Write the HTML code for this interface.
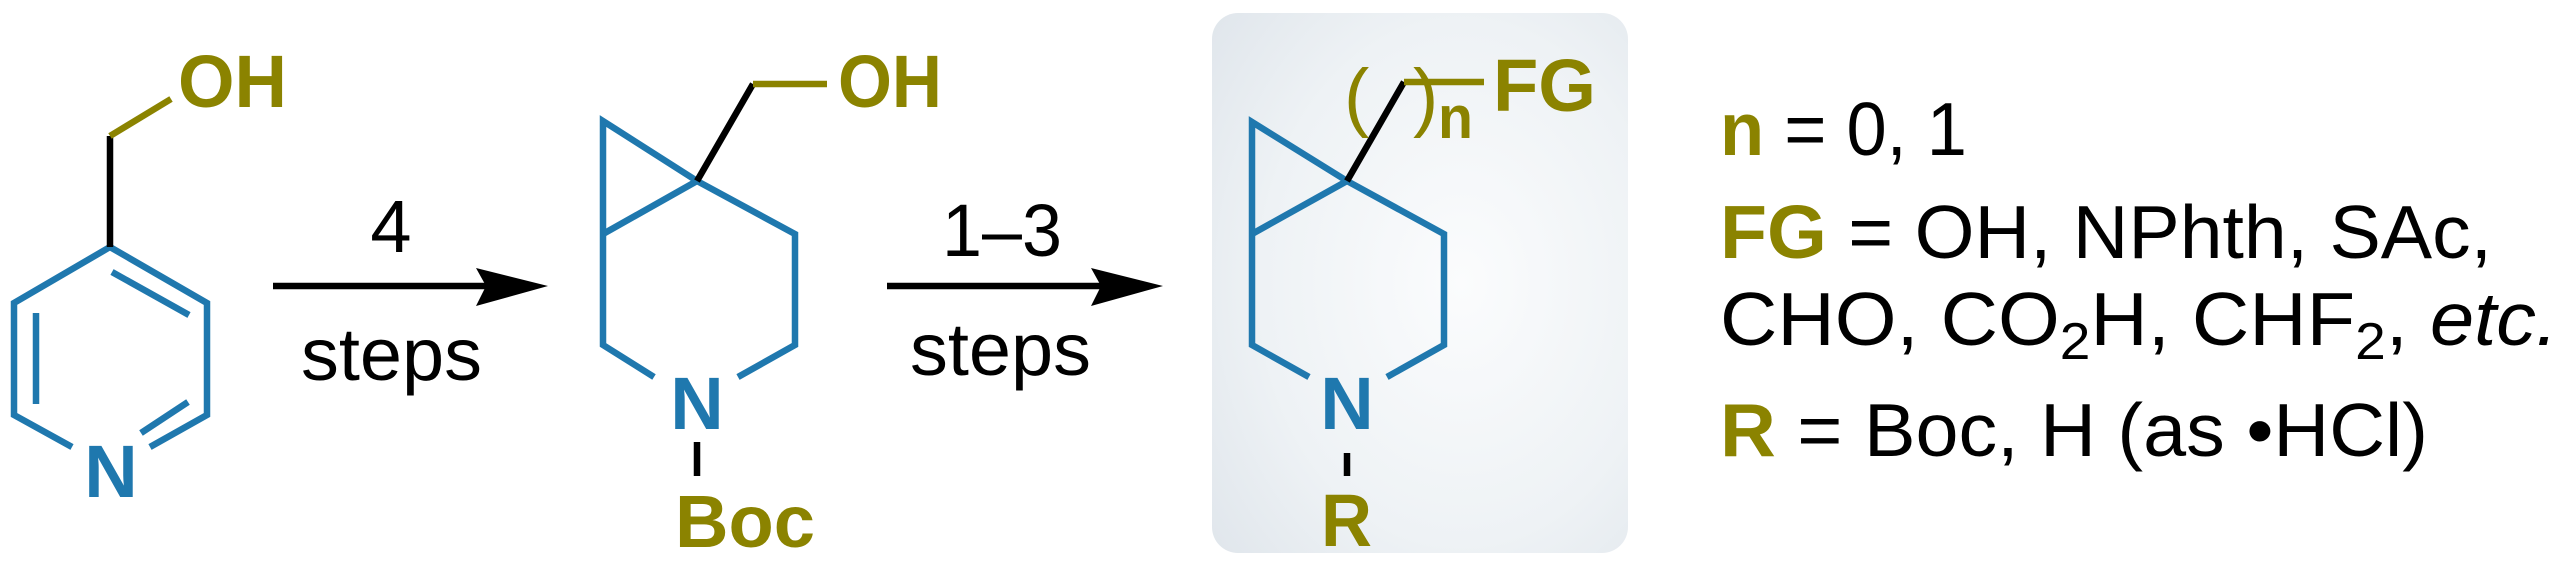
<!DOCTYPE html>
<html><head><meta charset="utf-8"><style>
html,body{margin:0;padding:0;background:#fff;}
svg{display:block;}
text{font-family:"Liberation Sans",Arial,sans-serif;}
</style></head><body>
<svg width="2560" height="561" viewBox="0 0 2560 561" xmlns="http://www.w3.org/2000/svg">
<defs>
<radialGradient id="g" cx="0.6" cy="0.5" r="0.8">
<stop offset="0" stop-color="#fbfcfd"/>
<stop offset="0.6" stop-color="#eef2f5"/>
<stop offset="1" stop-color="#dfe5eb"/>
</radialGradient>
</defs>
<rect x="1212" y="13" width="416" height="540" rx="26" fill="url(#g)"/>
<g stroke-width="6.5" fill="none" stroke-linecap="butt" stroke-linejoin="miter">
<polyline stroke="#1f78ae" points="72,447 14,415 14,303 110,247 207,303 207,415 150,447"/>
<line stroke="#1f78ae" x1="36" y1="313" x2="36" y2="404"/>
<line stroke="#1f78ae" x1="112" y1="272" x2="189" y2="315"/>
<line stroke="#1f78ae" x1="141" y1="433" x2="188" y2="402"/>
<line stroke="#000" x1="110" y1="247" x2="110" y2="136"/>
<line stroke="#8b8300" x1="110" y1="136" x2="171" y2="99"/>
<line stroke="#000" x1="273" y1="286" x2="490" y2="286"/>
<line stroke="#000" x1="887" y1="286" x2="1105" y2="286"/>
<polyline stroke="#1f78ae" points="654,377 603,345 603,234 603,121 697,181 795,234 795,345 738,377"/>
<line stroke="#1f78ae" x1="603" y1="234" x2="697" y2="181"/>
<line stroke="#000" x1="697" y1="181" x2="753" y2="84"/>
<line stroke="#8b8300" x1="753" y1="84" x2="827" y2="84"/>
<line stroke="#000" x1="697" y1="442" x2="697" y2="476"/>
<polyline stroke="#1f78ae" points="1309,377 1252,345 1252,234 1252,122 1347,181 1444,234 1444,345 1387,377"/>
<line stroke="#1f78ae" x1="1252" y1="234" x2="1347" y2="181"/>
<line stroke="#000" x1="1347" y1="181" x2="1404" y2="82"/>
<line stroke="#8b8300" x1="1404" y1="82" x2="1484" y2="82"/>
<line stroke="#000" x1="1347" y1="453" x2="1347" y2="476"/>
</g>
<polygon points="476,268 548,286 476,306 486,286" fill="#000"/>
<polygon points="1091,268 1163,286 1091,306 1101,286" fill="#000"/>

<g font-weight="bold" fill="#8b8300" font-size="74">
<text x="178" y="107" textLength="109" lengthAdjust="spacingAndGlyphs">OH</text>
<text x="838" y="107" textLength="104" lengthAdjust="spacingAndGlyphs">OH</text>
<text x="675" y="547" textLength="140" lengthAdjust="spacingAndGlyphs">Boc</text>
<text x="1321" y="546" textLength="51" lengthAdjust="spacingAndGlyphs">R</text>
<text x="1493" y="111" textLength="103" lengthAdjust="spacingAndGlyphs">FG</text>
<text x="1438" y="138" font-size="60" textLength="35" lengthAdjust="spacingAndGlyphs">n</text>
</g>
<g font-weight="normal" fill="#8b8300" font-size="76">
<text x="1344" y="122">(</text>
<text x="1413" y="122">)</text>
</g>
<g font-weight="bold" fill="#1f78ae" font-size="74" text-anchor="middle">
<text x="111" y="497">N</text>
<text x="697" y="429">N</text>
<text x="1347" y="429">N</text>
</g>
<g fill="#000" font-size="74">
<text x="391" y="252" text-anchor="middle">4</text>
<text x="301" y="380" textLength="181" lengthAdjust="spacingAndGlyphs">steps</text>
<text x="942" y="256" textLength="120" lengthAdjust="spacingAndGlyphs">1–3</text>
<text x="910" y="375" textLength="181" lengthAdjust="spacingAndGlyphs">steps</text>
</g>
<g fill="#000" font-size="75">
<text x="1720" y="155" textLength="247" lengthAdjust="spacingAndGlyphs"><tspan fill="#8b8300" font-weight="bold">n</tspan> = 0, 1</text>
<text x="1720" y="258" textLength="772" lengthAdjust="spacingAndGlyphs"><tspan fill="#8b8300" font-weight="bold">FG</tspan> = OH, NPhth, SAc,</text>
<text x="1720" y="345" textLength="838" lengthAdjust="spacingAndGlyphs">CHO, CO<tspan font-size="52" dy="14">2</tspan><tspan dy="-14">H,  CHF</tspan><tspan font-size="52" dy="14">2</tspan><tspan dy="-14">, </tspan><tspan font-style="italic">etc.</tspan></text>
<text x="1720" y="456" textLength="708" lengthAdjust="spacingAndGlyphs"><tspan fill="#8b8300" font-weight="bold">R</tspan> = Boc, H (as •HCl)</text>
</g>
</svg>
</body></html>
